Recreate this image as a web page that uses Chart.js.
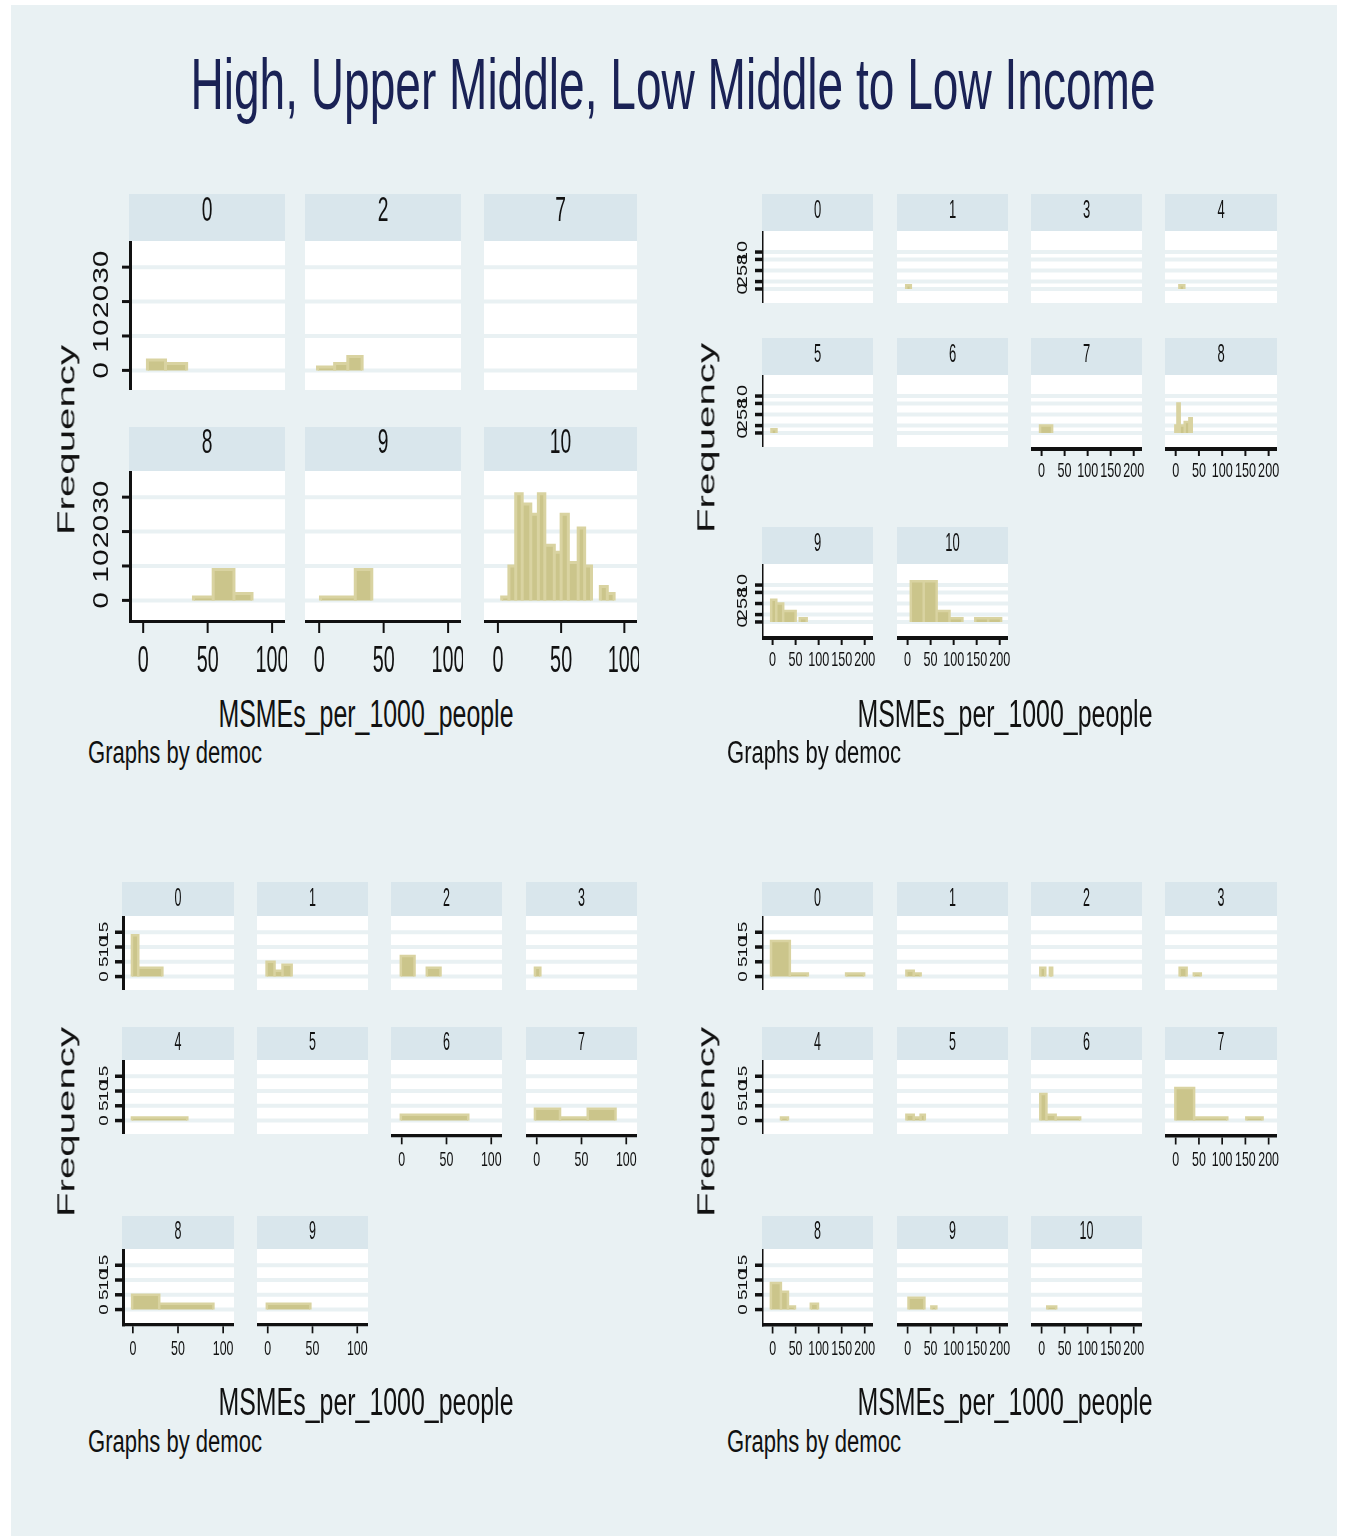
<!DOCTYPE html>
<html>
<head>
<meta charset="utf-8">
<title>MSMEs per 1000 people by democ</title>
<script src="https://cdn.jsdelivr.net/npm/chart.js@4.4.1/dist/chart.umd.min.js"></script>
<style>
  body { margin: 0; width: 1348px; height: 1538px; background: #fff; position: relative; overflow: hidden; }
  #frame { position: absolute; left: 11px; top: 5px; width: 1326px; height: 1531px; background: #e9f1f3; }
  canvas { position: absolute; }
  .txt { position: absolute; white-space: nowrap; line-height: 1; transform-origin: 0 0; font-family: "Liberation Sans", Arial, sans-serif; }
</style>
</head>
<body>
<div id="frame"></div>
<script>
// ---- data (bin edges + frequencies, 0 = empty bin) ----
const chartTitle = 'High, Upper Middle, Low Middle to Low Income';
const xTitle = 'MSMEs_per_1000_people';
const yTitle = 'Frequency';
const byNote = 'Graphs by democ';

// high income
const tlPanels = ['0', '2', '7', '8', '9', '10'];
const tlEdges = [
  [3.3, 17.3, 33.7],
  [-1.3, 12, 22.2, 33.3],
  [],
  [39, 54.3, 70.4, 84.4],
  [1, 28, 40.8],
  [3, 8.7, 14.1, 19.2, 26, 32, 37.1, 44.6, 50, 55.7, 63.5, 68.6, 74, 81, 86.5, 91.9]
];
const tlCounts = [
  [3, 2],
  [1, 2, 4],
  [],
  [1, 9, 2],
  [1, 9],
  [1, 10, 31, 28, 25, 31, 16, 14, 25, 11, 21, 10, 0, 4, 2]
];
const tlXTicks = [0, 50, 100];
const tlYTicks = [0, 10, 20, 30];

// upper middle income
const trPanels = ['0', '1', '3', '4', '5', '6', '7', '8', '9', '10'];
const trEdges = [
  [], [-3, 7], [], [8, 18.5], [-2.4, 8.4], [], [-3.3, 22.8],
  [-0.7, 3.8, 8.6, 19.4, 29.5, 34.6],
  [-3, 8, 23, 50, 59, 74],
  [7, 35, 63, 91, 119, 147, 175, 203]
];
const trCounts = [
  [], [1], [], [1], [1], [], [2],
  [2, 8, 2, 3, 4],
  [6, 5, 3, 0, 1],
  [11, 11, 3, 1, 0, 1, 1]
];
const trXTicks = [0, 50, 100, 150, 200];
const trYTicks = [0, 2, 5, 8, 10];

// low middle income
const blPanels = ['0', '1', '2', '3', '4', '5', '6', '7', '8', '9'];
const blEdges = [
  [-1, 6, 32.7], [-1.3, 7.6, 16.5, 26.7], [-1, 14.3, 28, 43.3], [-2, 4],
  [-1, 60.3], [], [-1, 74.3], [-2, 26, 57, 88],
  [-0.8, 29.2, 89.2], [-1, 47.6]
];
const blCounts = [
  [14, 3], [5, 2, 4], [7, 0, 3], [3],
  [1], [], [2], [4, 1, 4],
  [5, 2], [2]
];
const blXTicks = [0, 50, 100];
const blYTicks = [0, 5, 10, 15];

// low income
const brPanels = ['0', '1', '2', '3', '4', '5', '6', '7', '8', '9', '10'];
const brEdges = [
  [-3.4, 37.4, 76.5, 159.6, 198.7], [-2.6, 13.3, 28.3], [-2.8, 8, 18, 23], [8.5, 23.5, 39, 54],
  [18.3, 33.3], [-2.6, 13.3, 28.3, 37.4], [-2.8, 10.5, 30.5, 83.7], [-0.7, 39.6, 111, 152, 187],
  [-3.7, 18, 33.3, 48.5, 83, 98.5], [2, 36.5, 51.6, 62.4], [12.3, 31.7]
];
const brCounts = [
  [12, 1, 0, 1], [2, 1], [3, 0, 3], [3, 0, 1],
  [1], [2, 1, 2], [9, 2, 1], [11, 1, 0, 1],
  [9, 6, 1, 0, 2], [4, 0, 1], [1]
];
const brXTicks = [0, 50, 100, 150, 200];
const brYTicks = [0, 5, 10, 15];

// ---- look ----
const BG = '#e9f1f3';
const STRIP = '#d9e6ec';
const BAR_FILL = '#cbc58b';
const BAR_EDGE = '#d9d3a1';
const INK = '#111';
const FONT = '"Liberation Sans", Arial, sans-serif';
const PADL = 60, PADR = 2, PADB = 60;

const bigStyle = { axisW: 3, yAxisW: 3, xTickLen: 10, xTickW: 2, yTickLen: 7, yTickW: 3, xLabFont: 36, xLabSx: 0.55, xLabOff: 42,
  yLabFont: 30, yLabSx: 0.72, yLabOff: 27, stripFont: 35, stripSx: 0.55, stripDy: -6, gridW: 4, barW: 3 };
const wideStyle = { axisW: 4, yAxisW: 1.5, xTickLen: 5, xTickW: 2, yTickLen: 7, yTickW: 3.5, xLabFont: 21, xLabSx: 0.6, xLabOff: 24,
  yLabFont: 20, yLabSx: 0.7, yLabOff: 19, stripFont: 26, stripSx: 0.5, stripDy: -2, gridW: 4, barW: 2.5 };
const lowStyle = { axisW: 3.3, yAxisW: 3, xTickLen: 7, xTickW: 1.7, yTickLen: 7, yTickW: 3.5, xLabFont: 21, xLabSx: 0.59, xLabOff: 26,
  yLabFont: 19, yLabSx: 0.72, yLabOff: 18, stripFont: 25, stripSx: 0.5, stripDy: 0, gridW: 4, barW: 2.5 };
const lowWideStyle = Object.assign({}, lowStyle, { yAxisW: 1.5, yLabOff: 19, axisW: 3.5 });

const smallRows = [[882, 916], [1027, 1060], [1216, 1249]];
const quads = [
  { panels: tlPanels, edges: tlEdges, counts: tlCounts, xTicks: tlXTicks, yTicks: tlYTicks,
    ncol: 3, cols: [129, 305, 484], colW: [156, 156, 153], rows: [[194, 241], [427, 471]], plotH: 149,
    xr: [-11, 110], yr: [-5.7, 37.6], st: bigStyle,
    titleX: 365.5, titleY: 713.5, noteX: 88, noteY: 752, freqX: 66, freqY: 440 },
  { panels: trPanels, edges: trEdges, counts: trCounts, xTicks: trXTicks, yTicks: trYTicks,
    ncol: 4, cols: [762, 897, 1031, 1165], colW: [111, 111, 111, 112], rows: [[194, 231], [338, 375], [527, 564]], plotH: 72,
    xr: [-23, 218], yr: [-3.8, 15.7], st: wideStyle,
    titleX: 1005, titleY: 713.5, noteX: 727, noteY: 752, freqX: 706, freqY: 438 },
  { panels: blPanels, edges: blEdges, counts: blCounts, xTicks: blXTicks, yTicks: blYTicks,
    ncol: 4, cols: [122, 257, 391, 526], colW: [112, 111, 111, 111], rows: smallRows, plotH: 74,
    xr: [-12, 112], yr: [-4.55, 20.5], st: lowStyle,
    titleX: 365.5, titleY: 1401.5, noteX: 88, noteY: 1441, freqX: 66, freqY: 1122 },
  { panels: brPanels, edges: brEdges, counts: brCounts, xTicks: brXTicks, yTicks: brYTicks,
    ncol: 4, cols: [762, 897, 1031, 1165], colW: [111, 111, 111, 112], rows: smallRows, plotH: 74,
    xr: [-23, 218], yr: [-4.55, 20.5], st: lowWideStyle,
    titleX: 1005, titleY: 1401.5, noteX: 727, noteY: 1441, freqX: 706, freqY: 1122 }
];

// ---- html text, squeezed like the Stata output ----
const measure = document.createElement('canvas').getContext('2d');
function addText(str, cx, cy, size, lenPx, thick, rotated, color) {
  measure.font = size + 'px ' + FONT;
  const k = lenPx / measure.measureText(str).width;
  const d = document.createElement('div');
  d.className = 'txt';
  d.textContent = str;
  d.style.left = cx + 'px';
  d.style.top = cy + 'px';
  d.style.fontSize = size + 'px';
  d.style.color = color;
  d.style.transform = rotated
    ? 'scale(' + thick + ',' + k + ') rotate(-90deg) translate(-50%,-50%)'
    : 'scale(' + k + ',' + thick + ') translate(-50%,-50%)';
  document.body.appendChild(d);
}

function canvasText(ctx, str, x, y, size, sx, rotated) {
  ctx.save();
  ctx.translate(x, y);
  ctx.scale(sx, 1);
  if (rotated) ctx.rotate(-Math.PI / 2);
  ctx.font = size + 'px ' + FONT;
  ctx.fillStyle = INK;
  ctx.textAlign = 'center';
  ctx.textBaseline = 'middle';
  ctx.fillText(str, 0, 0);
  ctx.restore();
}

// outline of the histogram bins as one stepped path, gaps for empty bins
function histPoints(edges, counts) {
  const pts = [];
  counts.forEach((n, i) => {
    if (!n) { pts.push({ x: edges[i], y: null }); return; }
    pts.push({ x: edges[i], y: 0 }, { x: edges[i], y: n }, { x: edges[i + 1], y: n }, { x: edges[i + 1], y: 0 });
  });
  return pts;
}

function panelDeco(q, label, showX, showY) {
  const s = q.st;
  return {
    id: 'panelDeco',
    beforeDatasetsDraw(chart) {
      const { ctx, chartArea: a } = chart;
      const y = chart.scales.y;
      ctx.save();
      ctx.fillStyle = STRIP;
      ctx.fillRect(a.left, 0, a.width, a.top);
      canvasText(ctx, label, (a.left + a.right) / 2, a.top / 2 + s.stripDy, s.stripFont, s.stripSx, false);
      ctx.fillStyle = '#fff';
      ctx.fillRect(a.left, a.top, a.width, a.height);
      ctx.strokeStyle = BG;
      ctx.lineWidth = s.gridW;
      q.yTicks.forEach(v => {
        const py = y.getPixelForValue(v);
        ctx.beginPath(); ctx.moveTo(a.left, py); ctx.lineTo(a.right, py); ctx.stroke();
      });
      ctx.restore();
    },
    afterDatasetsDraw(chart) {
      const { ctx, chartArea: a } = chart;
      const x = chart.scales.x, y = chart.scales.y;
      ctx.save();
      ctx.strokeStyle = INK;
      if (showY) {
        ctx.lineWidth = s.yAxisW;
        ctx.beginPath(); ctx.moveTo(a.left + s.yAxisW / 2, a.top); ctx.lineTo(a.left + s.yAxisW / 2, a.bottom + (showX ? s.axisW : 0)); ctx.stroke();
        ctx.lineWidth = s.yTickW;
        q.yTicks.forEach(v => {
          const py = y.getPixelForValue(v);
          ctx.beginPath(); ctx.moveTo(a.left - s.yTickLen, py); ctx.lineTo(a.left, py); ctx.stroke();
          canvasText(ctx, String(v), a.left - s.yLabOff, py, s.yLabFont, s.yLabSx, true);
        });
      }
      if (showX) {
        ctx.lineWidth = s.axisW;
        ctx.beginPath(); ctx.moveTo(a.left, a.bottom + s.axisW / 2); ctx.lineTo(a.right, a.bottom + s.axisW / 2); ctx.stroke();
        ctx.lineWidth = s.xTickW;
        q.xTicks.forEach(v => {
          const px = x.getPixelForValue(v);
          ctx.beginPath(); ctx.moveTo(px, a.bottom + s.axisW); ctx.lineTo(px, a.bottom + s.axisW + s.xTickLen); ctx.stroke();
          canvasText(ctx, String(v), px, a.bottom + s.xLabOff, s.xLabFont, s.xLabSx, false);
        });
      }
      ctx.restore();
    }
  };
}

addText(chartTitle, 672.5, 84, 72, 965, 1, false, '#1a2255');

quads.forEach(q => {
  const n = q.panels.length;
  q.panels.forEach((label, i) => {
    const r = Math.floor(i / q.ncol), c = i % q.ncol;
    const stripH = q.rows[r][1] - q.rows[r][0];
    const cv = document.createElement('canvas');
    cv.width = q.colW[c] + PADL + PADR;
    cv.height = stripH + q.plotH + PADB;
    cv.style.left = (q.cols[c] - PADL) + 'px';
    cv.style.top = q.rows[r][0] + 'px';
    document.body.appendChild(cv);
    new Chart(cv, {
      type: 'line',
      data: {
        datasets: [{
          data: histPoints(q.edges[i], q.counts[i]),
          fill: 'origin',
          backgroundColor: BAR_FILL,
          borderColor: BAR_EDGE,
          borderWidth: q.st.barW,
          borderJoinStyle: 'miter',
          pointRadius: 0,
          tension: 0,
          spanGaps: false
        }]
      },
      options: {
        responsive: false,
        animation: false,
        events: [],
        layout: { padding: { left: PADL, right: PADR, top: stripH, bottom: PADB } },
        scales: {
          x: { type: 'linear', min: q.xr[0], max: q.xr[1], display: false },
          y: { type: 'linear', min: q.yr[0], max: q.yr[1], display: false }
        },
        plugins: { legend: { display: false }, tooltip: { enabled: false } }
      },
      plugins: [panelDeco(q, label, i + q.ncol >= n, c === 0)]
    });
  });
  addText(xTitle, q.titleX, q.titleY, 38, 295, 1, false, INK);
  addText(byNote, q.noteX + 87, q.noteY, 31, 174, 1, false, INK);
  addText(yTitle, q.freqX, q.freqY, 40, 190, 0.62, true, INK);
});
</script>
</body>
</html>
